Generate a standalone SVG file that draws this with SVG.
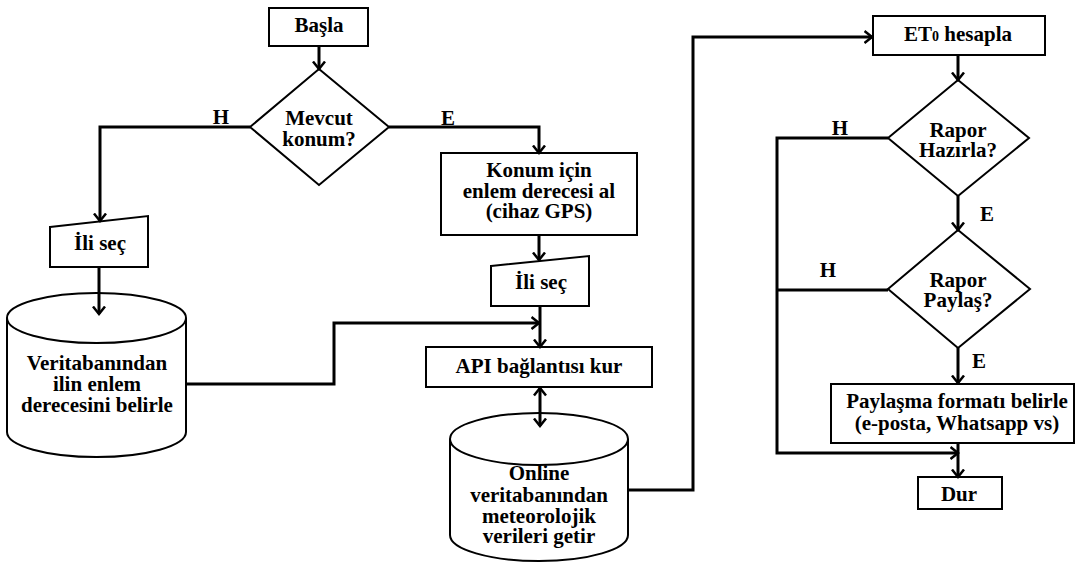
<svg xmlns="http://www.w3.org/2000/svg" width="1077" height="565" viewBox="0 0 1077 565">
<style>
  .shape { fill: #fff; stroke: #000; stroke-width: 2; }
  .conn { fill: none; stroke: #000; stroke-width: 3; }
  text { font-family: 'Liberation Serif', 'DejaVu Serif', serif; font-weight: bold; font-size: 21px; fill: #000; text-anchor: middle; }
</style>
<defs>
  <marker id="arr" markerUnits="userSpaceOnUse" viewBox="0 0 10 14" refX="8.5" refY="7" markerWidth="10" markerHeight="14" orient="auto-start-reverse">
    <path d="M1,1 L8.5,7 L1,13" fill="none" stroke="#000" stroke-width="2.5"/>
  </marker>
</defs>
<rect width="1077" height="565" fill="#fff"/>

<g id="basla">
  <rect class="shape" x="269" y="8" width="99" height="38"/>
  <text x="319" y="32">Başla</text>
</g>

<g id="mevcut-konum">
  <polygon class="shape" points="319,69 389,127 319,185 250,127"/>
  <text x="319" y="125">Mevcut</text>
  <text x="319" y="146">konum?</text>
</g>

<g id="ili-sec-1">
  <polygon class="shape" points="50,227 148,216 148,267 50,267"/>
  <text x="100" y="250">İli seç</text>
</g>

<g id="veritabani-1">
  <path class="shape" d="M7,318 A89.5,25 0 0 1 186,318 V432 A89.5,25 0 0 1 7,432 Z"/>
  <path class="shape" d="M7,318 A89.5,25 0 0 0 186,318" fill="none"/>
  <text x="97" y="370">Veritabanından</text>
  <text x="97" y="391">ilin enlem</text>
  <text x="97" y="412">derecesini belirle</text>
</g>

<g id="konum-gps">
  <rect class="shape" x="441" y="153" width="196" height="82"/>
  <text x="539" y="177">Konum için</text>
  <text x="539" y="198">enlem derecesi al</text>
  <text x="539" y="218">(cihaz GPS)</text>
</g>

<g id="ili-sec-2">
  <polygon class="shape" points="491,266 589,256 589,306 491,306"/>
  <text x="541" y="289">İli seç</text>
</g>

<g id="api">
  <rect class="shape" x="426" y="347" width="226" height="40"/>
  <text x="539" y="373">API bağlantısı kur</text>
</g>

<g id="veritabani-2">
  <path class="shape" d="M450,439 A89,26 0 0 1 628,439 V535 A89,26 0 0 1 450,535 Z"/>
  <path class="shape" d="M450,439 A89,26 0 0 0 628,439" fill="none"/>
  <text x="539" y="480">Online</text>
  <text x="539" y="502">veritabanından</text>
  <text x="539" y="523">meteorolojik</text>
  <text x="539" y="543">verileri getir</text>
</g>

<g id="et0">
  <rect class="shape" x="873" y="16" width="172" height="39"/>
  <text x="958" y="41">ET<tspan font-size="14">0</tspan> hesapla</text>
</g>

<g id="rapor-hazirla">
  <polygon class="shape" points="958,80 1029,138 958,196 888,138"/>
  <text x="958" y="137">Rapor</text>
  <text x="958" y="157">Hazırla?</text>
</g>

<g id="rapor-paylas">
  <polygon class="shape" points="958,230 1030,289 958,348 888,289"/>
  <text x="958" y="287">Rapor</text>
  <text x="958" y="307">Paylaş?</text>
</g>

<g id="paylasma-formati">
  <rect class="shape" x="831" y="384" width="243" height="59"/>
  <text x="957" y="408">Paylaşma formatı belirle</text>
  <text x="957" y="430">(e-posta, Whatsapp vs)</text>
</g>

<g id="dur">
  <rect class="shape" x="918" y="477" width="84" height="32"/>
  <text x="959" y="501">Dur</text>
</g>

<g id="connectors">
  <path class="conn" d="M319,46 V69" marker-end="url(#arr)"/>
  <path class="conn" d="M250,127 H100 V221" marker-end="url(#arr)"/>
  <path class="conn" d="M99,267 V314" marker-end="url(#arr)"/>
  <path class="conn" d="M186,384 H334 V323 H539" marker-end="url(#arr)"/>
  <path class="conn" d="M389,127 H539 V153" marker-end="url(#arr)"/>
  <path class="conn" d="M539,235 V260" marker-end="url(#arr)"/>
  <path class="conn" d="M540,306 V347" marker-end="url(#arr)"/>
  <path class="conn" d="M540,388 V426" marker-start="url(#arr)" marker-end="url(#arr)"/>
  <path class="conn" d="M628,490 H693 V37 H872" marker-end="url(#arr)"/>
  <path class="conn" d="M958,55 V80" marker-end="url(#arr)"/>
  <path class="conn" d="M958,196 V230" marker-end="url(#arr)"/>
  <path class="conn" d="M888,138 H777 V453 H958" marker-end="url(#arr)"/>
  <path class="conn" d="M888,290 H777"/>
  <path class="conn" d="M958,348 V383" marker-end="url(#arr)"/>
  <path class="conn" d="M958,443 V477" marker-end="url(#arr)"/>
  <text x="221" y="124">H</text>
  <text x="448" y="125">E</text>
  <text x="840" y="135">H</text>
  <text x="987" y="221">E</text>
  <text x="828" y="277">H</text>
  <text x="979" y="368">E</text>
</g>
</svg>
